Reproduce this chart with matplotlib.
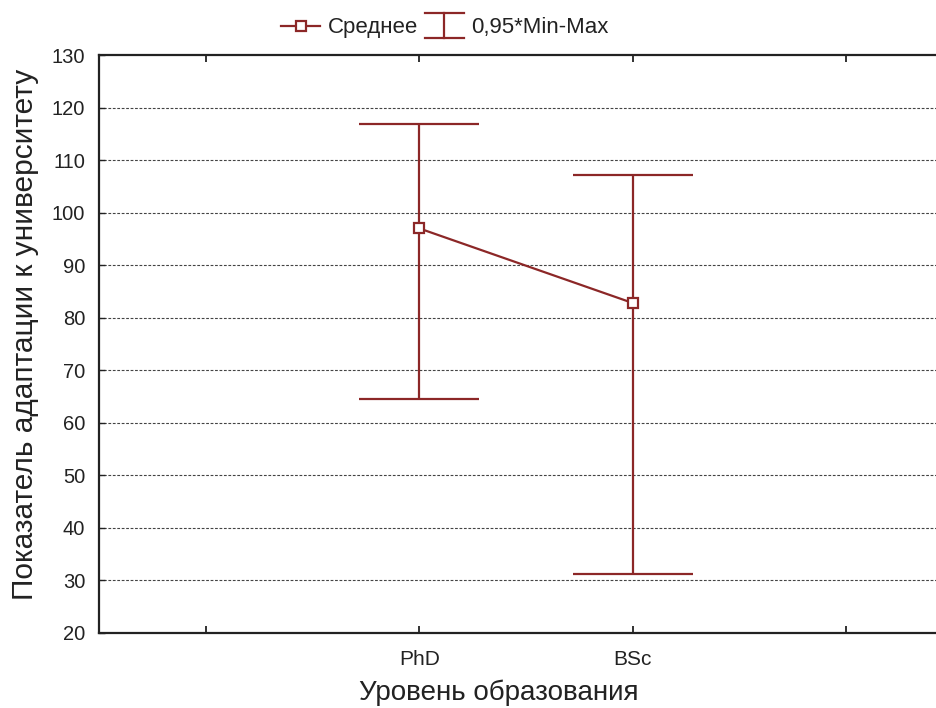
import matplotlib
matplotlib.use("Agg")
import matplotlib.pyplot as plt
from matplotlib.lines import Line2D
from matplotlib.legend_handler import HandlerBase

plt.rcParams['font.family'] = ['Liberation Sans', 'DejaVu Sans']

# Data
tick_positions = [0, 1, 2, 3]
tick_labels = ['', 'PhD', 'BSc', '']
cat_x = [1, 2]
means = [97.0, 82.8]
mins = [64.5, 31.3]
maxs = [116.8, 107.2]

y_ticks = [20, 30, 40, 50, 60, 70, 80, 90, 100, 110, 120, 130]

color = '#8c2727'

W, H = 937, 708
fig = plt.figure(figsize=(W / 100, H / 100), dpi=100)
left, right, top, bottom = 99, 953, 55, 633
ax = fig.add_axes([left / W, (H - bottom) / H, (right - left) / W, (bottom - top) / H])

ax.set_xlim(-0.5, 3.5)
ax.set_ylim(20, 130)

cap = 0.28
ax.vlines(cat_x, mins, maxs, color=color, lw=1.6, zorder=3)
ax.hlines(maxs, [x - cap for x in cat_x], [x + cap for x in cat_x], color=color, lw=1.6, zorder=3)
ax.hlines(mins, [x - cap for x in cat_x], [x + cap for x in cat_x], color=color, lw=1.6, zorder=3)
ax.plot(cat_x, means, color=color, lw=1.6, marker='s', markersize=7,
        markerfacecolor='white', markeredgecolor=color, markeredgewidth=1.6, zorder=4)

ax.set_xticks(tick_positions)
ax.set_xticklabels(tick_labels, fontsize=15)
ax.set_yticks(y_ticks)
ax.set_yticklabels([str(v) for v in y_ticks], fontsize=14.5)
ax.tick_params(axis='x', direction='in', top=True, bottom=True, length=5, width=1.3,
               pad=12, colors='#222222', labelcolor='#222222')
ax.tick_params(axis='y', direction='in', left=True, right=False, length=4, width=1.0,
               pad=10, colors='#222222', labelcolor='#222222')

for y in y_ticks[1:-1]:
    ax.axhline(y, color='#444444', lw=0.8, linestyle=(0, (2.5, 1.5)), zorder=1)

for s in ['left', 'bottom', 'top']:
    ax.spines[s].set_linewidth(1.6)
    ax.spines[s].set_color('#222222')
ax.spines['right'].set_visible(False)

ax.set_xlabel('Уровень образования', fontsize=20, color='#222222')
ax.xaxis.set_label_coords((499 - left) / (right - left), -0.08)
ax.set_ylabel('Показатель адаптации к университету', fontsize=21.5, color='#222222')
ax.yaxis.set_label_coords(-0.07, (633 - 334) / (633 - 55))


class HandlerMinMax(HandlerBase):
    def create_artists(self, legend, orig_handle, xdescent, ydescent, width, height, fontsize, trans):
        cx = width / 2 - xdescent
        y0 = -ydescent - height * 0.3
        y1 = -ydescent + height * 1.3
        arts = [
            Line2D([cx, cx], [y0, y1], color=color, lw=1.6, transform=trans),
            Line2D([-xdescent, width - xdescent], [y0, y0], color=color, lw=1.6, transform=trans),
            Line2D([-xdescent, width - xdescent], [y1, y1], color=color, lw=1.6, transform=trans),
        ]
        return arts


mean_handle = Line2D([], [], color=color, lw=1.6, marker='s', markersize=7,
                     markerfacecolor='white', markeredgecolor=color, markeredgewidth=1.6)
mm_handle = Line2D([], [], color=color)
leg = fig.legend([mean_handle, mm_handle], ['Среднее', '0,95*Min-Max'],
                 handler_map={mm_handle: HandlerMinMax()},
                 loc='center', bbox_to_anchor=(445 / W, 1 - 28 / H), ncol=2, frameon=False,
                 fontsize=16, handlelength=1.75, handletextpad=0.35, columnspacing=0.3,
                 borderpad=0)
for t in leg.get_texts():
    t.set_color('#222222')

fig.savefig('out.png', dpi=100)
